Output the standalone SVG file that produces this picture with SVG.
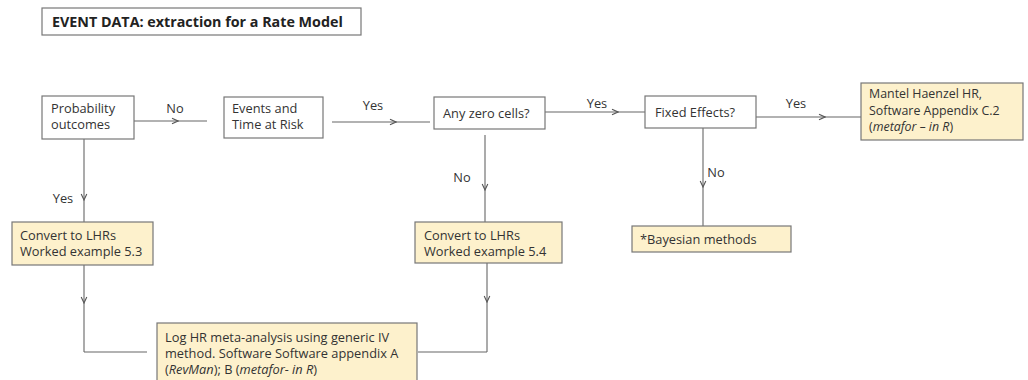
<svg xmlns="http://www.w3.org/2000/svg" width="1028" height="380" viewBox="0 0 1028 380">
<defs>
<marker id="chev" viewBox="0 0 8 8" refX="7" refY="4" markerWidth="8" markerHeight="8" markerUnits="userSpaceOnUse" orient="auto">
<path d="M1,1.2 L7,4 L1,6.8" fill="none" stroke="#555" stroke-width="1.1"/>
</marker>
</defs>
<style>
text{font-family:"Open Sans","Liberation Sans",sans-serif;font-size:12.8px;fill:#333;}
.t{font-weight:bold;font-size:14.3px;fill:#222;}
.m{font-size:12.4px;}
.w{fill:#fff;stroke:#777;stroke-width:1.2;}
.y{fill:#fdf1cc;stroke:#777;stroke-width:1.2;}
.c path{fill:none;stroke:#666;stroke-width:1.1;marker-mid:url(#chev);}
.c path.n{marker-mid:none;}
.i{font-style:italic;}
</style>
<rect width="1028" height="380" fill="#fff"/>
<g id="title"><rect class="w" x="42" y="8" width="319" height="27"/><text class="t" x="52" y="27">EVENT DATA: extraction for a Rate Model</text></g>
<g class="c" id="connectors">
<path d="M134,121 L178,121 L207,121"/>
<path d="M332,122 L396,122 L430,122"/>
<path d="M545,112 L618,112 L645,112"/>
<path d="M756,117 L825,117 L861,117"/>
<path d="M84,139 L84,200 L84,222"/>
<path d="M485,135 L485,190 L485,222"/>
<path d="M703,128 L703,187 L703,226"/>
<path d="M84,265 L84,303 L84,352"/>
<path class="n" d="M84,352 L147,352"/>
<path d="M487,263 L487,302 L487,352"/>
<path class="n" d="M487,352 L418,352"/>
<text x="175" y="113" text-anchor="middle">No</text>
<text x="373" y="110" text-anchor="middle">Yes</text>
<text x="597" y="108" text-anchor="middle">Yes</text>
<text x="796" y="108" text-anchor="middle">Yes</text>
<text x="63" y="203" text-anchor="middle">Yes</text>
<text x="462" y="182" text-anchor="middle">No</text>
<text x="716" y="177" text-anchor="middle">No</text>
</g>
<g id="prob"><rect class="w" x="42" y="96" width="92" height="43"/><text x="51" y="113">Probability</text><text x="51" y="129">outcomes</text></g>
<g id="events"><rect class="w" x="224" y="97" width="99" height="41"/><text x="232" y="113">Events and</text><text x="232" y="129">Time at Risk</text></g>
<g id="zero"><rect class="w" x="434" y="97" width="111" height="32"/><text x="443" y="118">Any zero cells?</text></g>
<g id="fixed"><rect class="w" x="645" y="96" width="111" height="32"/><text x="655" y="117">Fixed Effects?</text></g>
<g id="mantel"><rect class="y" x="861" y="83" width="162" height="57"/><text class="m" x="869" y="98">Mantel Haenzel HR,</text><text class="m" x="869" y="114.5">Software Appendix C.2</text><text class="m" x="869" y="131">(<tspan class="i">metafor – in R</tspan>)</text></g>
<g id="conv53"><rect class="y" x="12" y="222" width="141" height="43"/><text x="20" y="240">Convert to LHRs</text><text x="20" y="256">Worked example 5.3</text></g>
<g id="conv54"><rect class="y" x="415" y="222" width="147" height="41"/><text x="424" y="240">Convert to LHRs</text><text x="424" y="256">Worked example 5.4</text></g>
<g id="bayes"><rect class="y" x="632" y="226" width="159" height="26"/><text x="640" y="244">*Bayesian methods</text></g>
<g id="loghr"><rect class="y" x="157" y="323" width="260" height="62"/><text x="165" y="342">Log HR meta-analysis using generic IV</text><text x="165" y="358">method. Software Software appendix A</text><text x="165" y="374">(<tspan class="i">RevMan</tspan>); B (<tspan class="i">metafor- in R</tspan>)</text></g>
</svg>
